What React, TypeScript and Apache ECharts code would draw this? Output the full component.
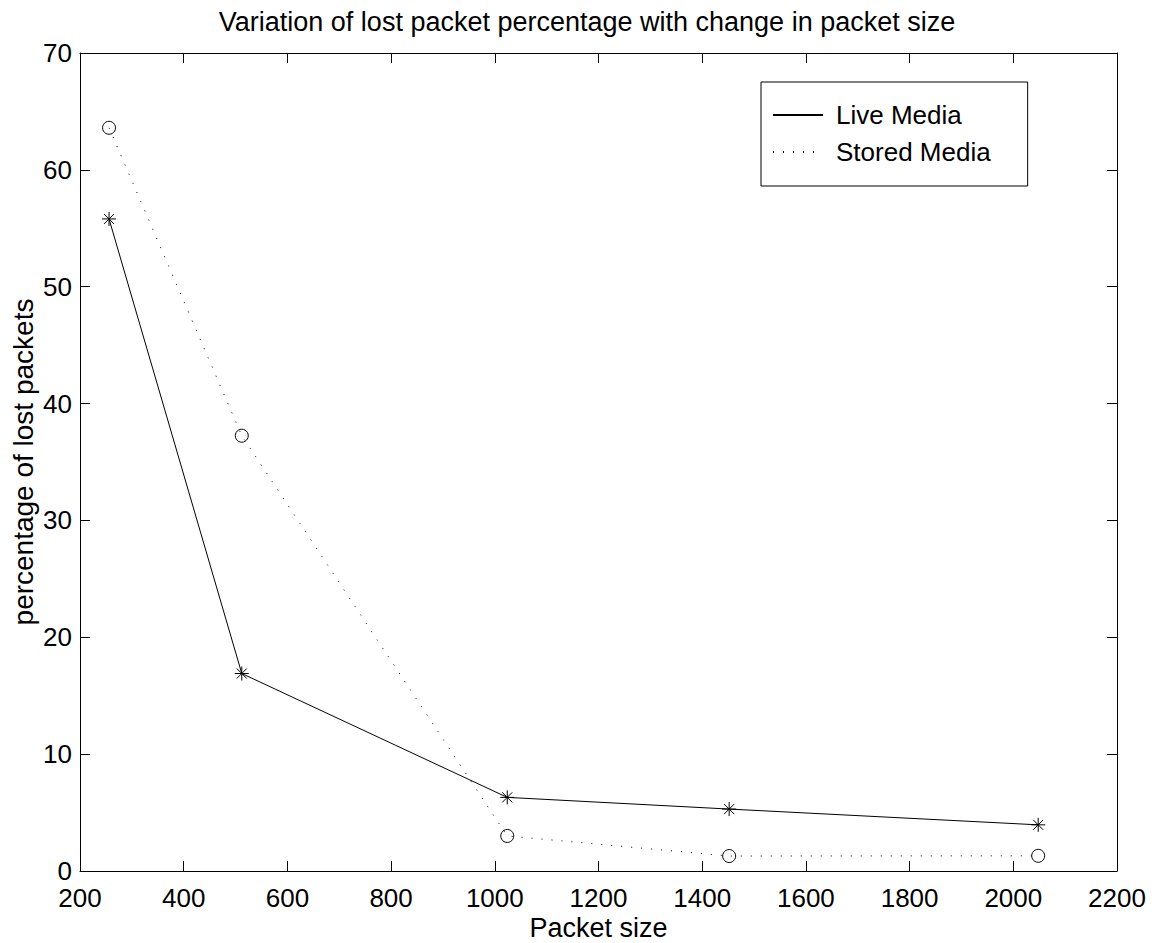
import React, { useEffect, useRef } from "react";
import * as echarts from "echarts";

const packetSizes = [256, 512, 1024, 1452, 2048];
const liveMedia = [55.8, 16.9, 6.3, 5.3, 3.95];
const storedMedia = [63.6, 37.25, 3.0, 1.28, 1.3];
const seriesNames = ["Live Media", "Stored Media"];
const titleText = "Variation of lost packet percentage with change in packet size";
const xAxisName = "Packet size";
const yAxisName = "percentage of lost packets";

const FONT = "'Liberation Sans', Arial, Helvetica, sans-serif";
const ASTERISK = "path://M7,0L7,14M0,7L14,7M2,2L12,12M12,2L2,12";

export default function App() {
  const ref = useRef<HTMLDivElement>(null);
  useEffect(() => {
    document.body.style.margin = "0";
    if (!ref.current) return;
    const chart = echarts.init(ref.current, null, { renderer: "svg" });
    const axisLine = { show: true, onZero: false, lineStyle: { color: "#000", width: 1 } };
    const tick = { show: true, inside: true, length: 10, lineStyle: { color: "#000", width: 1 } };
    chart.setOption({
      animation: false,
      backgroundColor: "#fff",
      textStyle: { fontFamily: FONT },
      title: {
        text: titleText,
        left: 582,
        textAlign: "center",
        top: 3,
        textStyle: { fontSize: 27, fontWeight: "normal", color: "#000", fontFamily: FONT },
      },
      legend: {
        data: seriesNames,
        orient: "vertical",
        left: 761,
        top: 82,
        padding: [20, 37, 21, 11],
        itemGap: 11,
        itemWidth: 50,
        itemHeight: 26,
        borderColor: "#000",
        borderWidth: 1,
        backgroundColor: "#fff",
        itemStyle: { color: "transparent", borderColor: "transparent", borderWidth: 0 },
        textStyle: { fontSize: 26, color: "#000", fontFamily: FONT, lineHeight: 26, padding: [0, 0, 0, 8] },
      },
      grid: { left: 80, right: 41, top: 53, bottom: 72, containLabel: false, outerBoundsMode: "none" },
      xAxis: [
        {
          type: "value",
          min: 200,
          max: 2200,
          interval: 200,
          position: "bottom",
          name: xAxisName,
          nameLocation: "middle",
          nameGap: 43,
          nameMoveOverlap: false,
          nameTextStyle: { fontSize: 27, lineHeight: 27, color: "#000", fontFamily: FONT },
          axisLine,
          axisTick: tick,
          splitLine: { show: false },
          axisLabel: {
            fontSize: 26,
            lineHeight: 20,
            color: "#000",
            margin: 17,
            fontFamily: FONT,
            formatter: (v: number) => String(v),
          },
        },
        {
          type: "value",
          min: 200,
          max: 2200,
          interval: 200,
          position: "top",
          axisLine,
          axisTick: tick,
          splitLine: { show: false },
          axisLabel: { show: false },
        },
      ],
      yAxis: [
        {
          type: "value",
          min: 0,
          max: 70,
          interval: 10,
          position: "left",
          name: yAxisName,
          nameLocation: "middle",
          nameGap: 43,
          nameMoveOverlap: false,
          nameTextStyle: { fontSize: 28, color: "#000", fontFamily: FONT },
          axisLine,
          axisTick: tick,
          splitLine: { show: false },
          axisLabel: {
            fontSize: 26,
            lineHeight: 20,
            color: "#000",
            margin: 8,
            fontFamily: FONT,
            formatter: (v: number) => String(v),
          },
        },
        {
          type: "value",
          min: 0,
          max: 70,
          interval: 10,
          position: "right",
          axisLine,
          axisTick: tick,
          splitLine: { show: false },
          axisLabel: { show: false },
        },
      ],
      series: [
        {
          name: seriesNames[0],
          type: "line",
          data: packetSizes.map((x, i) => [x, liveMedia[i]]),
          symbol: ASTERISK,
          symbolSize: 14,
          itemStyle: { color: "none", borderColor: "#000", borderWidth: 1 },
          lineStyle: { color: "#000", width: 1, type: "solid" },
        },
        {
          name: seriesNames[1],
          type: "line",
          data: packetSizes.map((x, i) => [x, storedMedia[i]]),
          symbol: "circle",
          symbolSize: 13,
          itemStyle: { color: "none", borderColor: "#000", borderWidth: 1 },
          lineStyle: { color: "#000", width: 1, type: [1, 9] },
        },
      ],
    });
    return () => chart.dispose();
  }, []);
  return <div ref={ref} style={{ width: 1158, height: 943 }} />;
}
